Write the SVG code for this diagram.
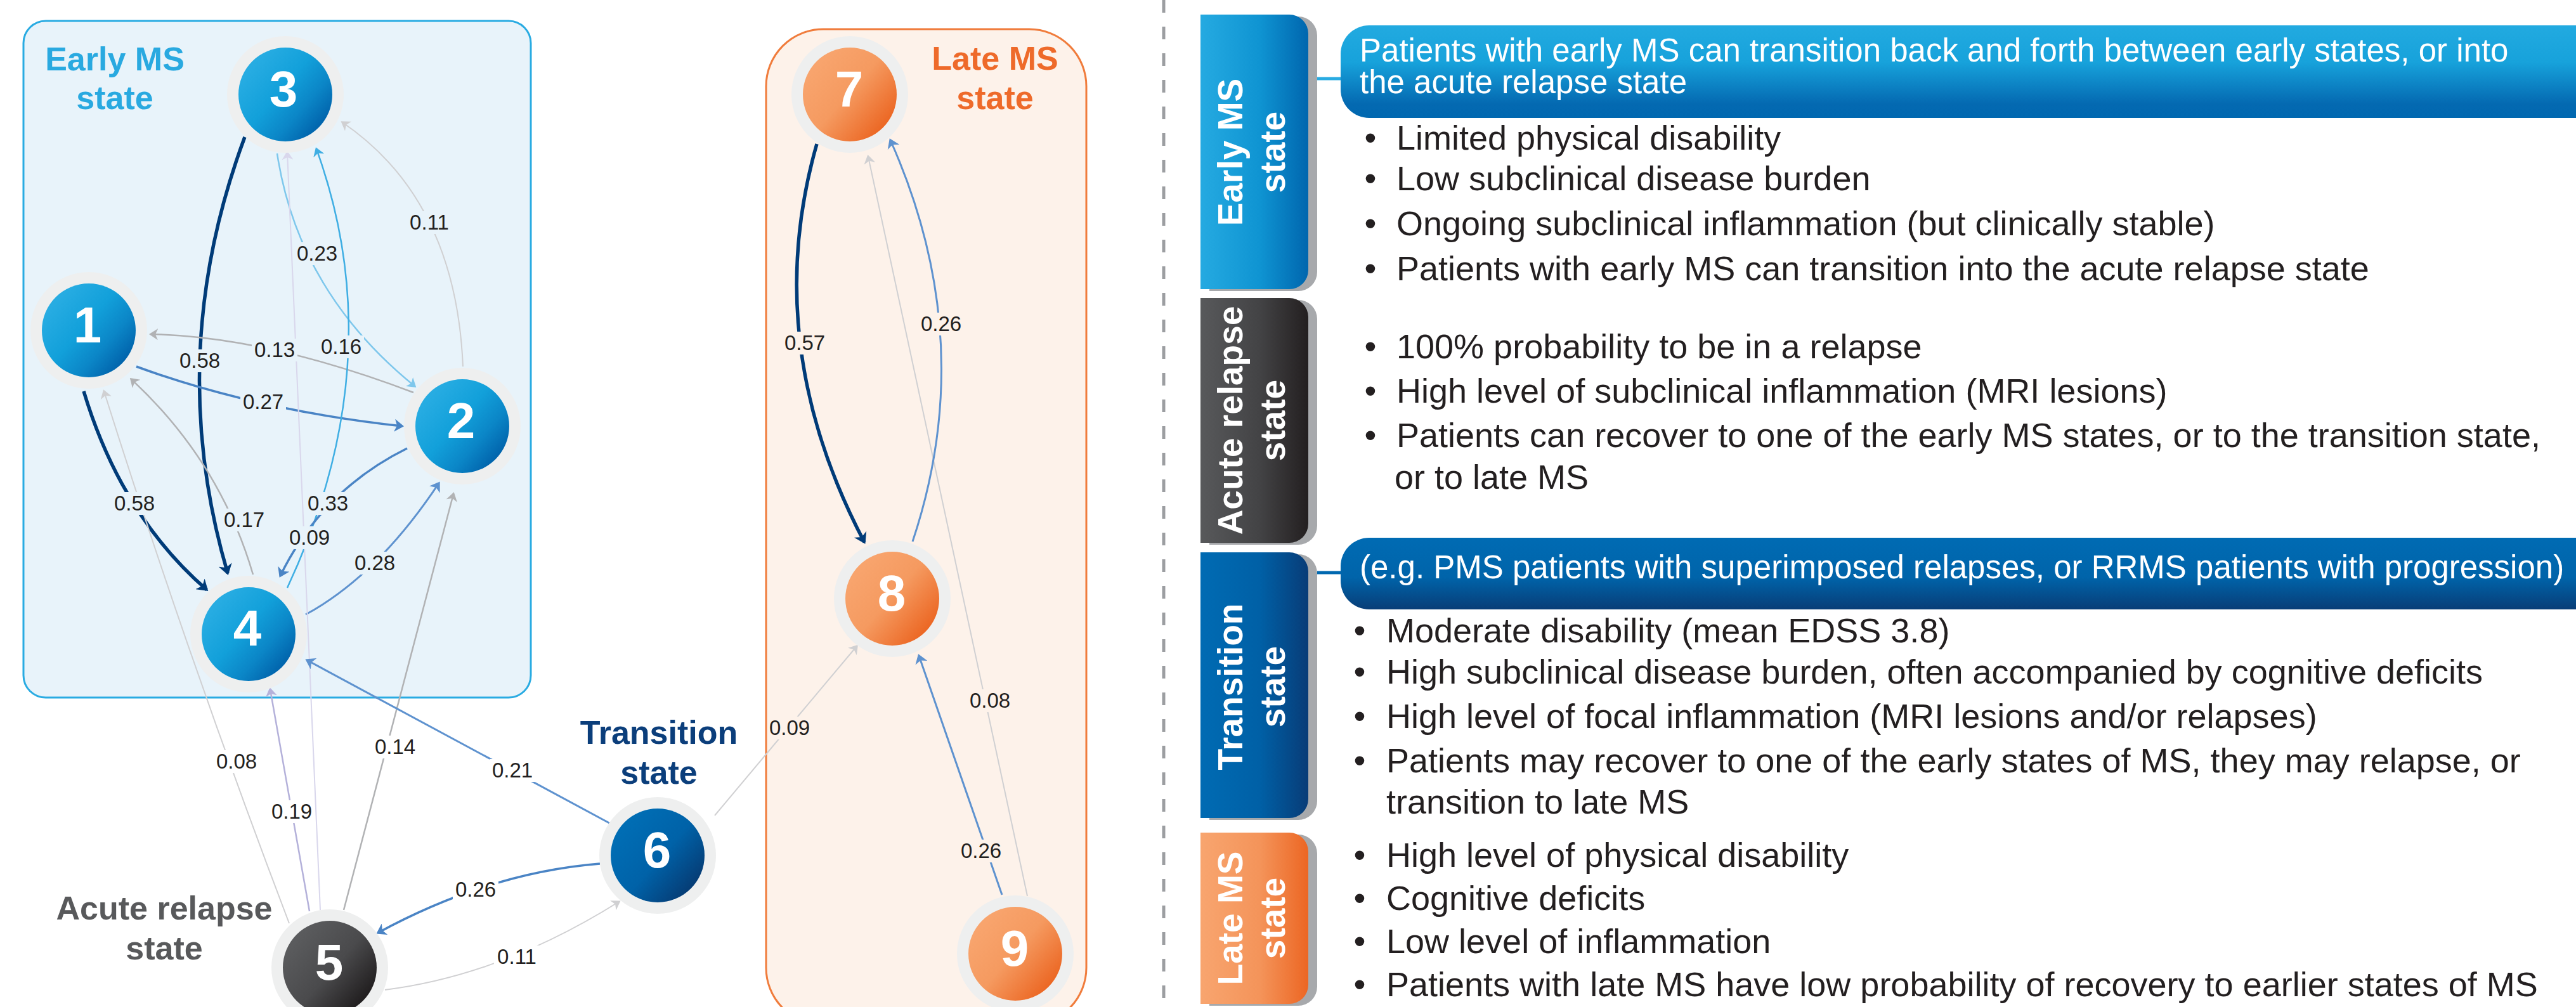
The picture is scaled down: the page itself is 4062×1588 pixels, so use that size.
<svg xmlns="http://www.w3.org/2000/svg" width="4062" height="1588" viewBox="0 0 4062 1588">
  <style>
    text { font-family: "Liberation Sans", Arial, sans-serif; }
    .lbl { font-size: 33px; fill: #231F20; text-anchor: middle; }
    .num { font-size: 80px; font-weight: bold; fill: #FFFFFF; text-anchor: middle; }
    .ttl { font-size: 52px; font-weight: bold; text-anchor: middle; }
    .tab { font-size: 55px; font-weight: bold; fill: #FFFFFF; text-anchor: middle; }
    .body { font-size: 54px; fill: #231F20; }
    .dot { font-size: 54px; fill: #231F20; text-anchor: middle; }
    .ban { font-size: 51px; fill: #FFFFFF; }
    .ring { fill: #EEEFEF; }
    .e { fill: none; }
    .navy { stroke: #003B78; stroke-width: 5.5; marker-end: url(#m-navy); }
    .blue { stroke: #4A84C5; stroke-width: 3.5; marker-end: url(#m-blue); }
    .blue2 { stroke: #5E92CF; stroke-width: 3; marker-end: url(#m-blue2); }
    .cyan { stroke: #3FAEE3; stroke-width: 2.5; marker-end: url(#m-cyan); }
    .lcyan { stroke: #7EC7EC; stroke-width: 2.5; marker-end: url(#m-lcyan); }
    .grey { stroke: #B1B2B4; stroke-width: 2.5; marker-end: url(#m-grey); }
    .lgrey { stroke: #D0D0D2; stroke-width: 2; marker-end: url(#m-lgrey); }
    .lav { stroke: #B4B1DA; stroke-width: 2.5; marker-end: url(#m-lav); }
    .plav { stroke: #D9D7EC; stroke-width: 2; marker-end: url(#m-plav); }
    .bg-e { fill: #E8F3FA; }
    .bg-w { fill: #FFFFFF; }
    .bg-l { fill: #FDF2EA; }
  </style>
  <defs>
    <linearGradient id="g-blue" x1="0.15" y1="0.2" x2="0.9" y2="0.85">
      <stop offset="0" stop-color="#27ACE2"/>
      <stop offset="0.4" stop-color="#12A0DA"/>
      <stop offset="0.7" stop-color="#0B86C7"/>
      <stop offset="1" stop-color="#0060A9"/>
    </linearGradient>
    <linearGradient id="g-dark" x1="0.15" y1="0.2" x2="0.9" y2="0.85">
      <stop offset="0" stop-color="#5A5B5D"/>
      <stop offset="0.5" stop-color="#4A4A4C"/>
      <stop offset="1" stop-color="#1E1B1C"/>
    </linearGradient>
    <linearGradient id="g-navy" x1="0.15" y1="0.2" x2="0.9" y2="0.85">
      <stop offset="0" stop-color="#006DB4"/>
      <stop offset="0.5" stop-color="#0062A8"/>
      <stop offset="1" stop-color="#063A72"/>
    </linearGradient>
    <linearGradient id="g-orange" x1="0.15" y1="0.2" x2="0.9" y2="0.85">
      <stop offset="0" stop-color="#F8A46D"/>
      <stop offset="0.45" stop-color="#F59A60"/>
      <stop offset="1" stop-color="#EB6420"/>
    </linearGradient>
    <!-- side tabs: light on the left, dark on the right -->
    <linearGradient id="t-blue" x1="0" y1="0" x2="1" y2="0">
      <stop offset="0" stop-color="#25AAE1"/>
      <stop offset="0.55" stop-color="#0F94D2"/>
      <stop offset="1" stop-color="#0066AE"/>
    </linearGradient>
    <linearGradient id="t-dark" x1="0" y1="0" x2="1" y2="0">
      <stop offset="0" stop-color="#58595B"/>
      <stop offset="0.55" stop-color="#434345"/>
      <stop offset="1" stop-color="#231F20"/>
    </linearGradient>
    <linearGradient id="t-navy" x1="0" y1="0" x2="1" y2="0">
      <stop offset="0" stop-color="#006BB3"/>
      <stop offset="0.55" stop-color="#0060A6"/>
      <stop offset="1" stop-color="#083C77"/>
    </linearGradient>
    <linearGradient id="t-orange" x1="0" y1="0" x2="1" y2="0">
      <stop offset="0" stop-color="#F8A56F"/>
      <stop offset="0.55" stop-color="#F4945A"/>
      <stop offset="1" stop-color="#EC6623"/>
    </linearGradient>
    <!-- header banners: vertical shading -->
    <linearGradient id="b-blue" x1="0" y1="0" x2="0" y2="1">
      <stop offset="0" stop-color="#22AAE0"/>
      <stop offset="0.4" stop-color="#17A2DB"/>
      <stop offset="0.85" stop-color="#0469B1"/>
      <stop offset="1" stop-color="#0068B0"/>
    </linearGradient>
    <linearGradient id="b-navy" x1="0" y1="0" x2="0" y2="1">
      <stop offset="0" stop-color="#006BB3"/>
      <stop offset="0.55" stop-color="#0064AA"/>
      <stop offset="1" stop-color="#083D77"/>
    </linearGradient>
    <!-- barbed arrowheads, one per connector colour -->
    <marker id="m-navy" viewBox="0 0 17 22" refX="14" refY="11" markerWidth="17" markerHeight="22" markerUnits="userSpaceOnUse" orient="auto"><path d="M0,0 L17,11 L0,22 L5,11Z" fill="#003B78"/></marker>
    <marker id="m-blue" viewBox="0 0 15 20" refX="12" refY="10" markerWidth="15" markerHeight="20" markerUnits="userSpaceOnUse" orient="auto"><path d="M0,0 L15,10 L0,20 L4,10Z" fill="#4A84C5"/></marker>
    <marker id="m-blue2" viewBox="0 0 15 20" refX="12" refY="10" markerWidth="15" markerHeight="20" markerUnits="userSpaceOnUse" orient="auto"><path d="M0,0 L15,10 L0,20 L4,10Z" fill="#5E92CF"/></marker>
    <marker id="m-cyan" viewBox="0 0 14 18" refX="11" refY="9" markerWidth="14" markerHeight="18" markerUnits="userSpaceOnUse" orient="auto"><path d="M0,0 L14,9 L0,18 L4,9Z" fill="#3FAEE3"/></marker>
    <marker id="m-lcyan" viewBox="0 0 14 18" refX="11" refY="9" markerWidth="14" markerHeight="18" markerUnits="userSpaceOnUse" orient="auto"><path d="M0,0 L14,9 L0,18 L4,9Z" fill="#7EC7EC"/></marker>
    <marker id="m-grey" viewBox="0 0 14 18" refX="11" refY="9" markerWidth="14" markerHeight="18" markerUnits="userSpaceOnUse" orient="auto"><path d="M0,0 L14,9 L0,18 L4,9Z" fill="#B1B2B4"/></marker>
    <marker id="m-lgrey" viewBox="0 0 14 18" refX="11" refY="9" markerWidth="14" markerHeight="18" markerUnits="userSpaceOnUse" orient="auto"><path d="M0,0 L14,9 L0,18 L4,9Z" fill="#D0D0D2"/></marker>
    <marker id="m-lav" viewBox="0 0 14 18" refX="11" refY="9" markerWidth="14" markerHeight="18" markerUnits="userSpaceOnUse" orient="auto"><path d="M0,0 L14,9 L0,18 L4,9Z" fill="#B4B1DA"/></marker>
    <marker id="m-plav" viewBox="0 0 14 18" refX="11" refY="9" markerWidth="14" markerHeight="18" markerUnits="userSpaceOnUse" orient="auto"><path d="M0,0 L14,9 L0,18 L4,9Z" fill="#D9D7EC"/></marker>
  </defs>

  <rect width="4062" height="1588" fill="#FFFFFF"/>

  <!-- state regions -->
  <g id="regions">
    <rect id="early-ms-region" x="37" y="33" width="800" height="1067" rx="35" fill="#E8F3FA" stroke="#29ABE2" stroke-width="3"/>
    <rect id="late-ms-region" x="1208" y="46" width="505" height="1570" rx="90" fill="#FDF2EA" stroke="#F07C3C" stroke-width="3"/>
  </g>

  <!-- transitions between states -->
  <g id="connectors">
    <path id="e3-4" class="e navy" d="M386,216 Q258,560 359,904"/>
    <path id="e1-4" class="e navy" d="M132,617 Q191,813 326,930"/>
    <path id="e1-2" class="e blue" d="M215,578 Q404,647 634,672"/>
    <path id="e2-1" class="e grey" d="M652,619 Q421,531 238,527"/>
    <path id="e2-3" class="e lgrey" d="M730,578 Q719,315 540,193"/>
    <path id="e3-2" class="e lcyan" d="M437,242 Q470,460 654,609"/>
    <path id="e4-3" class="e cyan" d="M453,927 Q620,569 499,235"/>
    <path id="e2-4" class="e blue" d="M642,707 Q508,773 442,908"/>
    <path id="e4-1" class="e grey" d="M399,906 Q347,728 207,598"/>
    <path id="e4-2" class="e blue2" d="M482,969 Q595,908 692,762"/>
    <path id="e5-1" class="e lgrey" d="M456,1456 Q296,1036 164,617"/>
    <path id="e5-4" class="e lav" d="M488,1437 L426,1087"/>
    <path id="e5-3" class="e plav" d="M505,1435 L453,241"/>
    <path id="e5-2" class="e grey" d="M542,1435 L715,779"/>
    <path id="e6-4" class="e blue2" d="M961,1298 L484,1041"/>
    <path id="e6-5" class="e blue" d="M946,1362 Q771,1376 596,1471"/>
    <path id="e5-6" class="e lgrey" d="M607,1561 Q791,1538 976,1422"/>
    <path id="e6-8" class="e lgrey" d="M1127,1286 L1351,1019"/>
    <path id="e9-8" class="e blue2" d="M1580,1411 L1449,1034"/>
    <path id="e9-7" class="e lgrey" d="M1620,1413 L1369,247"/>
    <path id="e7-8" class="e navy" d="M1288,227 Q1198,541 1363,855"/>
    <path id="e8-7" class="e blue2" d="M1439,854 Q1545,537 1404,221"/>
  </g>

  <!-- transition probabilities -->
  <g id="edge-labels">
    <rect class="bg-e" x="641" y="333" width="72" height="36"/><text class="lbl" x="677" y="362">0.11</text>
    <rect class="bg-e" x="464" y="382" width="72" height="36"/><text class="lbl" x="500" y="411">0.23</text>
    <rect class="bg-e" x="397" y="534" width="72" height="36"/><text class="lbl" x="433" y="563">0.13</text>
    <rect class="bg-e" x="502" y="529" width="72" height="36"/><text class="lbl" x="538" y="558">0.16</text>
    <rect class="bg-e" x="279" y="551" width="72" height="36"/><text class="lbl" x="315" y="580">0.58</text>
    <rect class="bg-e" x="379" y="616" width="72" height="36"/><text class="lbl" x="415" y="645">0.27</text>
    <rect class="bg-e" x="176" y="776" width="72" height="36"/><text class="lbl" x="212" y="805">0.58</text>
    <rect class="bg-e" x="481" y="776" width="72" height="36"/><text class="lbl" x="517" y="805">0.33</text>
    <rect class="bg-e" x="349" y="802" width="72" height="36"/><text class="lbl" x="385" y="831">0.17</text>
    <rect class="bg-e" x="452" y="830" width="72" height="36"/><text class="lbl" x="488" y="859">0.09</text>
    <rect class="bg-e" x="555" y="870" width="72" height="36"/><text class="lbl" x="591" y="899">0.28</text>
    <rect class="bg-w" x="337" y="1183" width="72" height="36"/><text class="lbl" x="373" y="1212">0.08</text>
    <rect class="bg-w" x="424" y="1262" width="72" height="36"/><text class="lbl" x="460" y="1291">0.19</text>
    <rect class="bg-w" x="587" y="1160" width="72" height="36"/><text class="lbl" x="623" y="1189">0.14</text>
    <rect class="bg-w" x="772" y="1197" width="72" height="36"/><text class="lbl" x="808" y="1226">0.21</text>
    <rect class="bg-w" x="714" y="1385" width="72" height="36"/><text class="lbl" x="750" y="1414">0.26</text>
    <rect class="bg-w" x="779" y="1491" width="72" height="36"/><text class="lbl" x="815" y="1520">0.11</text>
    <rect class="bg-l" x="1211" y="1130" width="70" height="36"/><text class="lbl" x="1245" y="1159">0.09</text>
    <rect class="bg-l" x="1525" y="1087" width="72" height="36"/><text class="lbl" x="1561" y="1116">0.08</text>
    <rect class="bg-l" x="1511" y="1324" width="72" height="36"/><text class="lbl" x="1547" y="1353">0.26</text>
    <rect class="bg-l" x="1233" y="523" width="72" height="36"/><text class="lbl" x="1269" y="552">0.57</text>
    <rect class="bg-l" x="1448" y="493" width="72" height="36"/><text class="lbl" x="1484" y="522">0.26</text>
  </g>

  <!-- states -->
  <g id="node-1"><circle class="ring" cx="140" cy="521" r="92"/><circle cx="140" cy="521" r="74" fill="url(#g-blue)"/><text class="num" x="138" y="540">1</text></g>
  <g id="node-2"><circle class="ring" cx="729" cy="672" r="92"/><circle cx="729" cy="672" r="74" fill="url(#g-blue)"/><text class="num" x="727" y="691">2</text></g>
  <g id="node-3"><circle class="ring" cx="450" cy="149" r="92"/><circle cx="450" cy="149" r="74" fill="url(#g-blue)"/><text class="num" x="447" y="168">3</text></g>
  <g id="node-4"><circle class="ring" cx="392" cy="1000" r="92"/><circle cx="392" cy="1000" r="74" fill="url(#g-blue)"/><text class="num" x="390" y="1018">4</text></g>
  <g id="node-5"><circle class="ring" cx="520" cy="1526" r="92"/><circle cx="520" cy="1526" r="74" fill="url(#g-dark)"/><text class="num" x="519" y="1545">5</text></g>
  <g id="node-6"><circle class="ring" cx="1037" cy="1349" r="92"/><circle cx="1037" cy="1349" r="74" fill="url(#g-navy)"/><text class="num" x="1036" y="1368">6</text></g>
  <g id="node-7"><circle class="ring" cx="1340" cy="149" r="92"/><circle cx="1340" cy="149" r="74" fill="url(#g-orange)"/><text class="num" x="1339" y="168">7</text></g>
  <g id="node-8"><circle class="ring" cx="1407" cy="944" r="92"/><circle cx="1407" cy="944" r="74" fill="url(#g-orange)"/><text class="num" x="1406" y="963">8</text></g>
  <g id="node-9"><circle class="ring" cx="1601" cy="1504" r="92"/><circle cx="1601" cy="1504" r="74" fill="url(#g-orange)"/><text class="num" x="1600" y="1523">9</text></g>

  <!-- state group titles -->
  <g id="titles">
    <text class="ttl" fill="#29A9E0"><tspan x="181" y="111">Early MS</tspan><tspan x="181" y="172">state</tspan></text>
    <text class="ttl" fill="#EE6A2A"><tspan x="1569" y="110">Late MS</tspan><tspan x="1569" y="172">state</tspan></text>
    <text class="ttl" fill="#0B3E7B"><tspan x="1039" y="1173">Transition</tspan><tspan x="1039" y="1236">state</tspan></text>
    <text class="ttl" fill="#58595B"><tspan x="259" y="1450">Acute relapse</tspan><tspan x="259" y="1513">state</tspan></text>
  </g>

  <!-- divider -->
  <line x1="1835" y1="0" x2="1835" y2="1588" stroke="#9C9EA1" stroke-width="5" stroke-dasharray="20 22"/>

  <!-- descriptions: side tabs -->
  <g id="tab-early">
    <path d="M1907,26 H2047 A30,30 0 0 1 2077,56 V429 A30,30 0 0 1 2047,459 H1907 Z" fill="#A7A9AC"/>
    <path d="M1893,23 H2033 A30,30 0 0 1 2063,53 V426 A30,30 0 0 1 2033,456 H1893 Z" fill="url(#t-blue)"/>
    <g transform="translate(1978,240) rotate(-90)"><text class="tab" y="-19">Early MS</text><text class="tab" y="48">state</text></g>
  </g>
  <g id="tab-acute">
    <path d="M1907,473 H2047 A30,30 0 0 1 2077,503 V829 A30,30 0 0 1 2047,859 H1907 Z" fill="#A7A9AC"/>
    <path d="M1893,470 H2033 A30,30 0 0 1 2063,500 V826 A30,30 0 0 1 2033,856 H1893 Z" fill="url(#t-dark)"/>
    <g transform="translate(1978,663) rotate(-90)"><text class="tab" y="-19">Acute relapse</text><text class="tab" y="48">state</text></g>
  </g>
  <g id="tab-transition">
    <path d="M1907,874 H2047 A30,30 0 0 1 2077,904 V1263 A30,30 0 0 1 2047,1293 H1907 Z" fill="#A7A9AC"/>
    <path d="M1893,871 H2033 A30,30 0 0 1 2063,901 V1260 A30,30 0 0 1 2033,1290 H1893 Z" fill="url(#t-navy)"/>
    <g transform="translate(1978,1083) rotate(-90)"><text class="tab" y="-19">Transition</text><text class="tab" y="48">state</text></g>
  </g>
  <g id="tab-late">
    <path d="M1907,1316 H2047 A30,30 0 0 1 2077,1346 V1556 A30,30 0 0 1 2047,1586 H1907 Z" fill="#A7A9AC"/>
    <path d="M1893,1313 H2033 A30,30 0 0 1 2063,1343 V1553 A30,30 0 0 1 2033,1583 H1893 Z" fill="url(#t-orange)"/>
    <g transform="translate(1978,1448) rotate(-90)"><text class="tab" y="-19">Late MS</text><text class="tab" y="48">state</text></g>
  </g>

  <!-- header banners -->
  <g id="banner-early">
    <line x1="2077" y1="124" x2="2116" y2="124" stroke="#29ABE2" stroke-width="5"/>
    <path d="M4070,40 H2159 A45,45 0 0 0 2114,85 V141 A45,45 0 0 0 2159,186 H4070 Z" fill="url(#b-blue)"/>
    <text class="ban"><tspan x="2144" y="97">Patients with early MS can transition back and forth between early states, or into</tspan><tspan x="2144" y="147">the acute relapse state</tspan></text>
  </g>
  <g id="banner-transition">
    <line x1="2077" y1="903" x2="2116" y2="903" stroke="#0068B0" stroke-width="5"/>
    <path d="M4070,848 H2159 A45,45 0 0 0 2114,893 V916 A45,45 0 0 0 2159,961 H4070 Z" fill="url(#b-navy)"/>
    <text class="ban" x="2144" y="912">(e.g. PMS patients with superimposed relapses, or RRMS patients with progression)</text>
  </g>

  <!-- bullet lists -->
  <g id="list-early">
    <text class="dot" x="2161" y="236">•</text><text class="body" x="2202" y="236">Limited physical disability</text>
    <text class="dot" x="2161" y="300">•</text><text class="body" x="2202" y="300">Low subclinical disease burden</text>
    <text class="dot" x="2161" y="371">•</text><text class="body" x="2202" y="371">Ongoing subclinical inflammation (but clinically stable)</text>
    <text class="dot" x="2161" y="442">•</text><text class="body" x="2202" y="442">Patients with early MS can transition into the acute relapse state</text>
  </g>
  <g id="list-acute">
    <text class="dot" x="2161" y="565">•</text><text class="body" x="2202" y="565">100% probability to be in a relapse</text>
    <text class="dot" x="2161" y="635">•</text><text class="body" x="2202" y="635">High level of subclinical inflammation (MRI lesions)</text>
    <text class="dot" x="2161" y="705">•</text><text class="body" x="2202" y="705">Patients can recover to one of the early MS states, or to the transition state,</text>
    <text class="body" x="2199" y="771">or to late MS</text>
  </g>
  <g id="list-transition">
    <text class="dot" x="2144" y="1013">•</text><text class="body" x="2186" y="1013">Moderate disability (mean EDSS 3.8)</text>
    <text class="dot" x="2144" y="1078">•</text><text class="body" x="2186" y="1078">High subclinical disease burden, often accompanied by cognitive deficits</text>
    <text class="dot" x="2144" y="1148">•</text><text class="body" x="2186" y="1148">High level of focal inflammation (MRI lesions and/or relapses)</text>
    <text class="dot" x="2144" y="1218">•</text><text class="body" x="2186" y="1218">Patients may recover to one of the early states of MS, they may relapse, or</text>
    <text class="body" x="2186" y="1283">transition to late MS</text>
  </g>
  <g id="list-late">
    <text class="dot" x="2144" y="1367">•</text><text class="body" x="2186" y="1367">High level of physical disability</text>
    <text class="dot" x="2144" y="1435">•</text><text class="body" x="2186" y="1435">Cognitive deficits</text>
    <text class="dot" x="2144" y="1503">•</text><text class="body" x="2186" y="1503">Low level of inflammation</text>
    <text class="dot" x="2144" y="1571">•</text><text class="body" x="2186" y="1571">Patients with late MS have low probability of recovery to earlier states of MS</text>
  </g>
</svg>
